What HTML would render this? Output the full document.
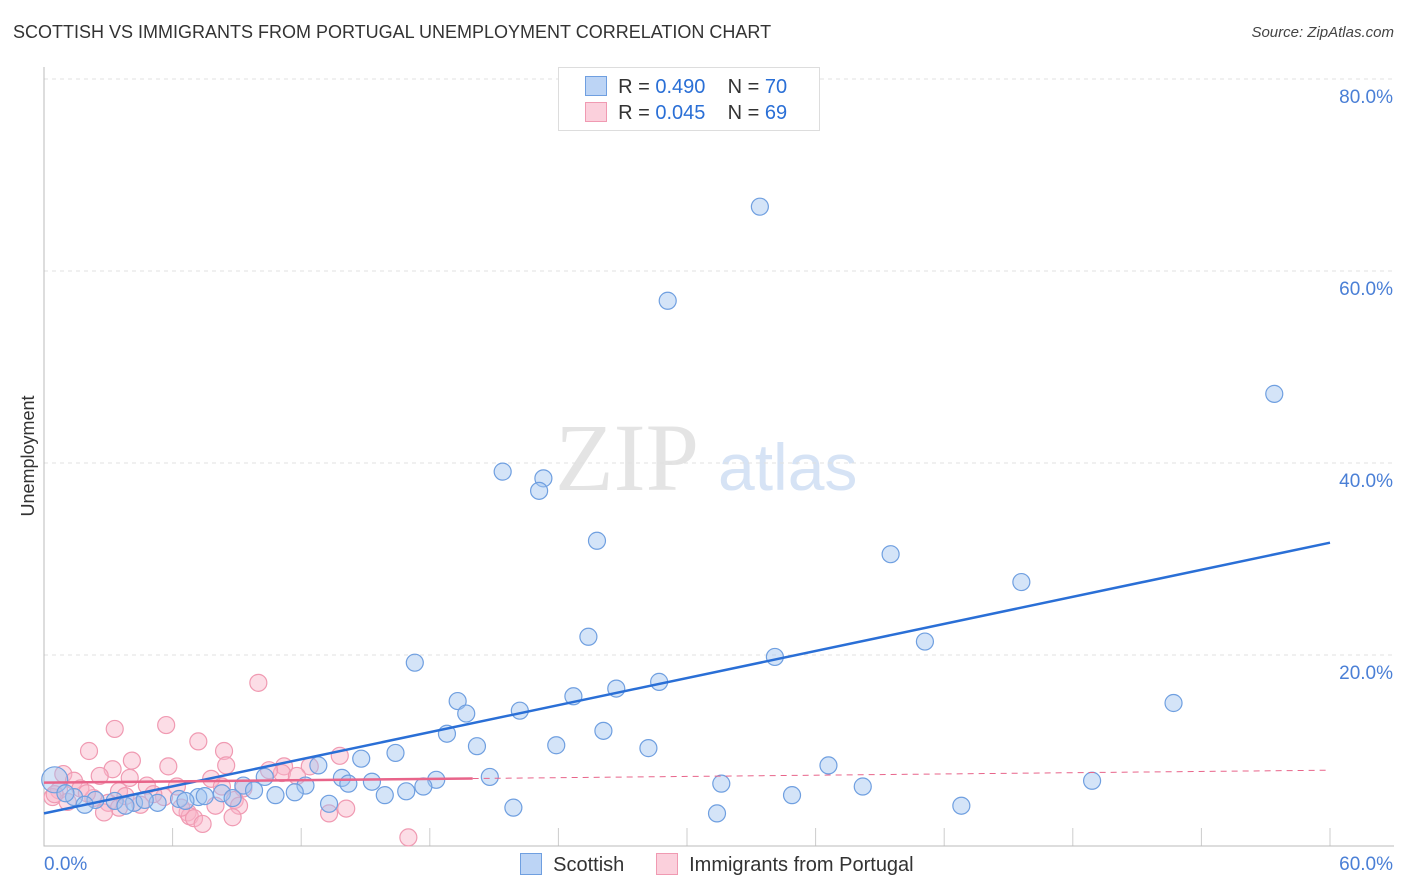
<!DOCTYPE html>
<html><head><meta charset="utf-8"><style>
body{margin:0;background:#fff;font-family:"Liberation Sans",sans-serif;}
#wrap{position:relative;width:1406px;height:892px;}
.t{position:absolute;white-space:nowrap}
</style></head><body>
<div id="wrap">
<div class="t" style="left:13px;top:22px;font-size:18px;color:#333">SCOTTISH VS IMMIGRANTS FROM PORTUGAL UNEMPLOYMENT CORRELATION CHART</div>
<div class="t" style="right:12px;top:24px;font-size:15px;color:#444;font-style:italic">Source: ZipAtlas.com</div>
<svg id="svg" width="1406" height="892" style="position:absolute;left:0;top:0"></svg>
</div>
<script>
const xTicks=[0,60];
const yTicks=[20,40,60,80];
const blueX=[33.4,29.1,57.4,21.4,23.3,23.1,25.8,39.5,45.6,25.4,41.1,17.3,34.1,19.3,28.7,26.7,24.7,19.7,22.2,52.7,18.8,26.1,20.2,23.9,28.2,16.4,14.8,36.6,12.8,20.8,18.3,13.9,10.3,31.6,48.9,15.3,14.2,12.2,38.2,17.7,9.3,11.7,16.9,15.9,10.8,34.9,8.3,7.2,8.8,6.3,5.3,4.2,3.3,13.3,42.8,21.9,31.4,2.4,1.4,0.5,1.9,1.0,4.7,7.5,3.8,9.8,6.6];
const blueY=[66.7,56.9,47.2,39.1,38.4,37.1,31.9,30.5,27.6,21.9,21.4,19.2,19.8,15.2,17.2,16.5,15.7,13.9,14.2,15.0,11.8,12.1,10.5,10.6,10.3,9.8,9.2,8.5,8.5,7.3,7.0,7.2,7.3,6.6,6.9,6.8,6.6,6.4,6.3,6.3,6.4,5.7,5.8,5.4,5.4,5.4,5.6,5.2,5.1,5.0,4.6,4.6,4.8,4.5,4.3,4.1,3.5,4.9,5.2,7.0,4.4,5.6,4.9,5.3,4.3,5.9,4.8];
const pinkX=[10.0,5.7,3.3,7.2,2.1,8.4,13.8,4.1,5.8,8.5,11.2,3.2,12.4,11.1,0.9,2.6,4.0,7.8,11.8,1.4,4.8,6.2,9.3,0.7,3.5,0.4,2.3,5.6,8.9,3.0,4.5,1.1,3.5,8.0,9.1,6.7,6.8,7.0,7.4,8.8,2.8,13.3,14.1,17.0,1.7,0.5,2.0,3.8,5.1,10.5,8.3,6.4];
const pinkY=[17.1,12.7,12.3,11.0,10.0,10.0,9.5,9.0,8.4,8.5,8.4,8.1,8.4,7.7,7.6,7.4,7.2,7.1,7.4,6.9,6.4,6.3,6.1,5.9,5.8,5.2,5.1,5.2,4.9,4.6,4.4,4.7,4.1,4.3,4.3,3.6,3.2,3.0,2.4,3.1,3.6,3.5,4.0,1.0,6.1,5.5,5.6,5.3,5.5,8.0,6.3,4.1];
const blueLine=[3.5,31.7]; // y at x=0 and x=60
const pinkLine=[6.7,8.0];
const pinkSolidEnd=20;
const NS="http://www.w3.org/2000/svg";
const svg=document.getElementById('svg');
const X=v=>44+v/60*1286, Y=v=>847-v*9.6;
function mk(t,a){const e=document.createElementNS(NS,t);for(const k in a)e.setAttribute(k,a[k]);svg.appendChild(e);return e;}
let wm=mk('text',{x:555,y:490,'font-size':96,'font-family':'Liberation Serif',fill:'#e4e4e4'});wm.textContent='ZIP';


let wm2=mk('text',{x:718,y:490,'font-size':66,'font-family':'Liberation Sans',fill:'#d6e3f5'});wm2.textContent='atlas';


yTicks.forEach(v=>{
 let l=mk('line',{x1:44,x2:1394,y1:Y(v),y2:Y(v),stroke:'#e0e0e0','stroke-dasharray':'4 4'});
 
 
 let t=mk('text',{x:1393,y:Y(v)+24,'text-anchor':'end','font-size':19,fill:'#4a7fd6'});t.textContent=v.toFixed(1)+'%';
 
 
});
for(let i=1;i<=10;i++){let l=mk('line',{x1:X(i*6),x2:X(i*6),y1:828,y2:846,stroke:'#ccc'});
 
 }
let ax=mk('path',{d:'M44,67 V846 H1394',fill:'none',stroke:'#bbb'});


xTicks.forEach((v,i)=>{let t=mk('text',{x:i?1393:44,y:870,'text-anchor':i?'end':'start','font-size':19,fill:'#4a7fd6'});t.textContent=v.toFixed(1)+'%';
 
 });
let yt=mk('text',{x:34,y:456,transform:'rotate(-90 34 456)','text-anchor':'middle','font-size':18,fill:'#333'});yt.textContent='Unemployment';


pinkX.forEach((x,i)=>{let c=mk('circle',{cx:X(x),cy:Y(pinkY[i]),r:8.5,fill:'rgba(248,180,200,0.45)',stroke:'#f09ab2','stroke-width':1.2});
 
 });
blueX.forEach((x,i)=>{let c=mk('circle',{cx:X(x),cy:Y(blueY[i]),r:i==59?13:8.5,fill:'rgba(160,196,240,0.45)',stroke:'#6f9fe0','stroke-width':1.2});
 
 });
let bl=mk('line',{x1:X(0),y1:Y(blueLine[0]),x2:X(60),y2:Y(blueLine[1]),stroke:'#2a6fd6','stroke-width':2.5});


const py=x=>pinkLine[0]+(pinkLine[1]-pinkLine[0])*x/60;
let pl=mk('line',{x1:X(0),y1:Y(py(0)),x2:X(pinkSolidEnd),y2:Y(py(pinkSolidEnd)),stroke:'#e8648a','stroke-width':2.5});


let pd=mk('line',{x1:X(pinkSolidEnd),y1:Y(py(pinkSolidEnd)),x2:X(60),y2:Y(py(60)),stroke:'#e8648a','stroke-width':1,'stroke-dasharray':'6 5'});


</script>
<div class="t" style="left:558px;top:67px;width:260px;height:62px;border:1px solid #ddd;background:#fff;font-size:20px;color:#333">
 <div style="position:absolute;left:26px;top:8px"><span style="display:inline-block;width:20px;height:18px;background:#bcd4f5;border:1px solid #6f9fe0;vertical-align:-3px"></span>&nbsp; R = <span style="color:#2a6fd6">0.490</span>&nbsp;&nbsp;&nbsp; N = <span style="color:#2a6fd6">70</span></div>
 <div style="position:absolute;left:26px;top:34px"><span style="display:inline-block;width:20px;height:18px;background:#fbd0dc;border:1px solid #f09ab2;vertical-align:-3px"></span>&nbsp; R = <span style="color:#2a6fd6">0.045</span>&nbsp;&nbsp;&nbsp; N = <span style="color:#2a6fd6">69</span></div>
</div>
<div class="t" style="left:520px;top:853px;font-size:20px;color:#333"><span style="display:inline-block;width:20px;height:20px;background:#bcd4f5;border:1px solid #6f9fe0;vertical-align:-4px"></span>&nbsp; Scottish</div>
<div class="t" style="left:656px;top:853px;font-size:20px;color:#333"><span style="display:inline-block;width:20px;height:20px;background:#fbd0dc;border:1px solid #f09ab2;vertical-align:-4px"></span>&nbsp; Immigrants from Portugal</div>
</body></html>
